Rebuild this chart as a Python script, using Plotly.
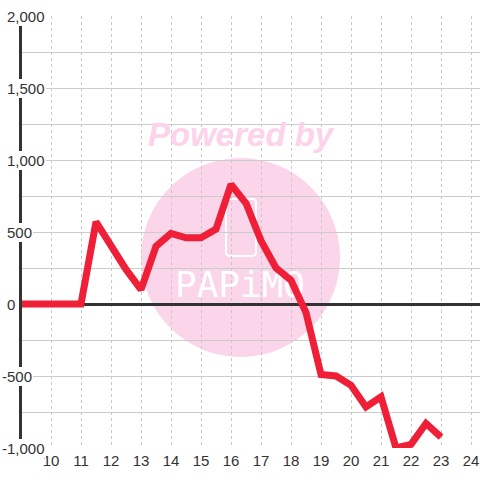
import plotly.graph_objects as go

# ---- data ----
hours = [9, 9.5, 10, 10.5, 11, 11.5, 12, 12.5, 13, 13.5, 14, 14.5, 15, 15.5,
         16, 16.5, 17, 17.5, 18, 18.5, 19, 19.5, 20, 20.5, 21, 21.5, 22, 22.5, 23]
values = [0, 0, 0, 0, 0, 570, 400, 240, 100, 400, 490, 460, 460, 520,
          830, 700, 440, 250, 165, -60, -490, -500, -565, -715, -645, -1000, -975, -830, -925]
x_ticks = list(range(10, 25))
y_tick_vals = [2000, 1500, 1000, 500, 0, -500, -1000]
y_tick_text = ["2,000", "1,500", "1,000", "500", "0", "-500", "-1,000"]

# ---- layout geometry ----
W, H = 480, 480
ML, MR, MT, MB = 22, 0, 16, 32
PW, PH = W - ML - MR, H - MT - MB


def px(xp):
    return (xp - ML) / PW


def py(yp):
    return (H - MB - yp) / PH


FONT = "Liberation Sans, Arial, sans-serif"
RED = "#ee1f36"
PINK = "#fbd5ea"

fig = go.Figure()

# watermark text (drawn beneath the data line)
fig.add_trace(go.Scatter(
    x=[16.3], y=[112], mode="text", text=["PAPiMO"],
    textfont=dict(family="DejaVu Sans Mono", size=36, color="white"),
    hoverinfo="skip", showlegend=False, cliponaxis=False,
))

fig.add_trace(go.Scatter(
    x=hours, y=values, mode="lines",
    line=dict(color=RED, width=7),
    showlegend=False, hoverinfo="skip",
))

shapes = [
    dict(type="circle", xref="paper", yref="paper",
         x0=px(141), x1=px(340), y0=py(357), y1=py(158),
         fillcolor=PINK, line=dict(width=0), layer="below"),
]
# phone outline (rounded rect)
x0, x1, y0, y1, r = px(226), px(256), py(199), py(256), 4
rx, ry = r / PW, r / PH
path = (f"M {x0+rx},{y0} L {x1-rx},{y0} Q {x1},{y0} {x1},{y0-ry} "
        f"L {x1},{y1+ry} Q {x1},{y1} {x1-rx},{y1} L {x0+rx},{y1} "
        f"Q {x0},{y1} {x0},{y1+ry} L {x0},{y0-ry} Q {x0},{y0} {x0+rx},{y0} Z")
shapes.append(dict(type="path", xref="paper", yref="paper", path=path,
                   line=dict(color="white", width=2), layer="below"))

annotations = [
    dict(text="Powered by", xref="paper", yref="paper", x=px(241), y=py(134),
         xanchor="center", yanchor="middle",
         showarrow=False, font=dict(family=FONT, size=33, color="#fcd3ea",
                                     weight="bold", style="italic"))
]
for v, t in zip(y_tick_vals, y_tick_text):
    shift = -21 if t.startswith("-") else -16
    annotations.append(dict(
        text=t, xref="paper", yref="y", x=0, y=v, xanchor="left", yanchor="middle",
        xshift=shift, showarrow=False, bgcolor="white", borderpad=1, borderwidth=0,
        font=dict(family=FONT, size=15, color="#333333"),
    ))

fig.update_layout(
    width=W, height=H,
    margin=dict(l=ML, r=MR, t=MT, b=MB, pad=0),
    paper_bgcolor="white", plot_bgcolor="white",
    shapes=shapes, annotations=annotations,
    xaxis=dict(
        range=[10 - 29 / 30, 10 + 429 / 30],
        tickmode="array", tickvals=x_ticks, ticktext=[str(t) for t in x_ticks],
        showgrid=True, gridcolor="#c8c8c8", gridwidth=1, griddash="3px,3px",
        showline=False, zeroline=False, ticks="", ticklabelstandoff=2,
        tickfont=dict(family=FONT, size=15, color="#333333"),
        fixedrange=True,
    ),
    yaxis=dict(
        range=[-1000, 2000], tickmode="linear", tick0=0, dtick=250,
        showticklabels=False, ticks="",
        showgrid=True, gridcolor="#cccccc", gridwidth=1,
        zeroline=True, zerolinecolor="#333333", zerolinewidth=3,
        showline=True, linecolor="#333333", linewidth=3,
        fixedrange=True,
    ),
)

fig.write_html("out.html", config={"displayModeBar": False},
               post_script="document.body.style.margin='0';")
